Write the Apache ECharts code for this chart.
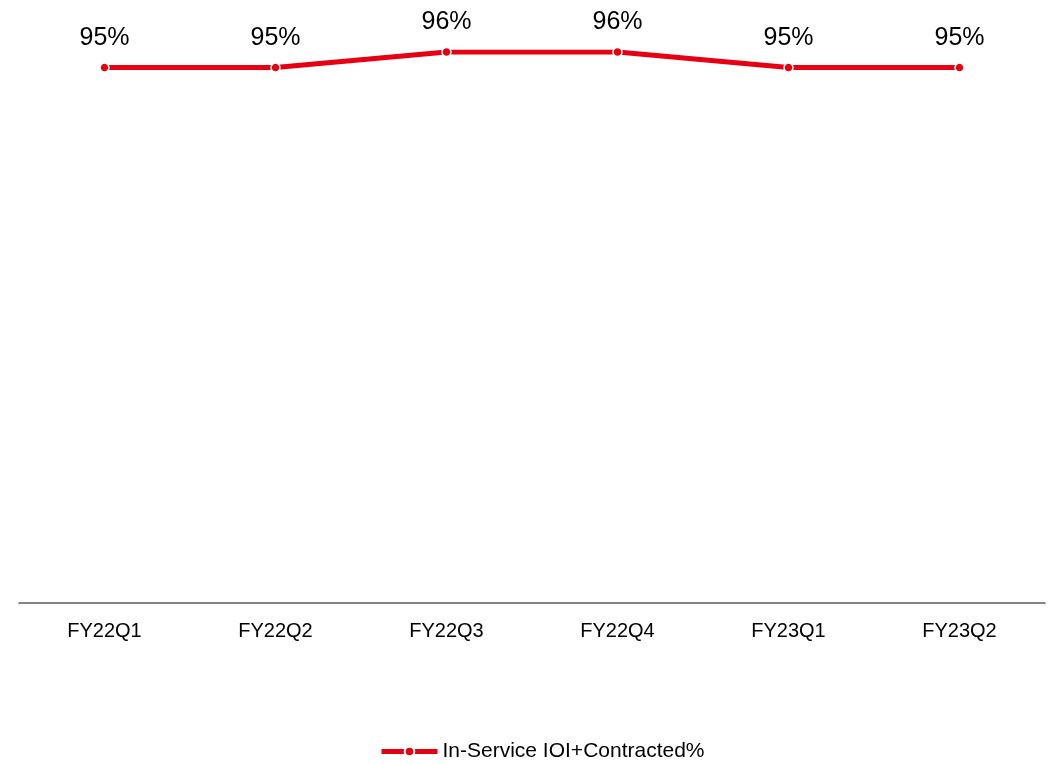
<!DOCTYPE html>
<html>
<head>
<meta charset="utf-8">
<script src="https://cdn.jsdelivr.net/npm/echarts@6/dist/echarts.min.js"></script>
<style>
html,body{margin:0;padding:0;background:#fff;}
#chart{width:1056px;height:764px;}
</style>
</head>
<body>
<div id="chart"></div>
<script>
const categories = ['FY22Q1', 'FY22Q2', 'FY22Q3', 'FY22Q4', 'FY23Q1', 'FY23Q2'];
const seriesName = 'In-Service IOI+Contracted%';
const values = [95, 95, 96, 96, 95, 95];

const FONT = 'Liberation Sans, Arial, sans-serif';
const chart = echarts.init(document.getElementById('chart'));
chart.setOption({
  animation: false,
  grid: { left: 19, right: 11, top: 52, bottom: 161.5 },
  xAxis: {
    type: 'category',
    data: categories,
    boundaryGap: true,
    axisLine: { show: true, lineStyle: { color: '#595959', width: 1.5 } },
    axisTick: { show: false },
    axisLabel: { color: '#000', fontSize: 20, fontFamily: FONT, margin: 19 }
  },
  yAxis: {
    type: 'value',
    min: 60.7,
    max: 96,
    show: false,
    splitLine: { show: false }
  },
  legend: {
    bottom: 2,
    left: 379,
    padding: 0,
    itemWidth: 56,
    itemHeight: 12,
    itemGap: 6,
    textStyle: { color: '#000', fontSize: 21, fontFamily: FONT },
    lineStyle: { width: 5 },
    data: [seriesName]
  },
  series: [{
    name: seriesName,
    type: 'line',
    data: values,
    symbol: 'circle',
    symbolSize: 9,
    color: '#E60012',
    lineStyle: { width: 5, color: '#E60012' },
    itemStyle: { color: '#E60012', borderColor: '#fff', borderWidth: 1.5 },
    label: {
      show: true,
      position: 'top',
      distance: 12,
      color: '#000',
      fontSize: 25,
      fontFamily: FONT,
      formatter: p => p.value + '%'
    }
  }]
});
</script>
</body>
</html>
